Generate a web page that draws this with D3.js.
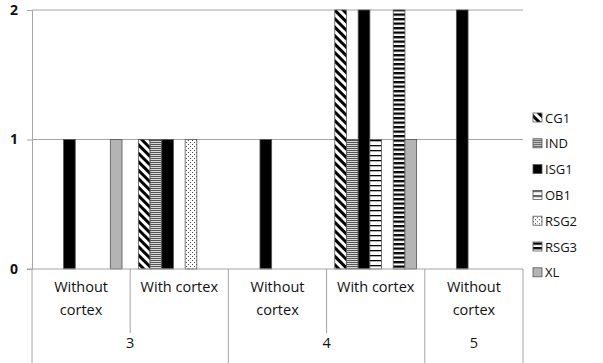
<!doctype html>
<html>
<head>
    <script src="https://d3js.org/d3.v7.min.js"></script>
</head>
<style>
    body { margin: 0; background: #fff; }
    svg text {
        fill: #111;
        font: 14.5px "Open Sans", sans-serif;
    }
    .legend text { font-size: 13px; }
</style>
<body>
<script>
    // subcategory / group labels along the x axis
    var subLabels = ["Without cortex", "With cortex", "Without cortex", "With cortex", "Without cortex"];
    var groupLabels = ["3", "3", "4", "4", "5"];
    var series = ["CG1", "IND", "ISG1", "OB1", "RSG2", "RSG3", "XL"];

    // one array per series, one value per subcategory
    var CG1  = [0, 1, 0, 2, 0];
    var IND  = [0, 1, 0, 1, 0];
    var ISG1 = [1, 1, 1, 2, 2];
    var OB1  = [0, 0, 0, 1, 0];
    var RSG2 = [0, 1, 0, 0, 0];
    var RSG3 = [0, 0, 0, 2, 0];
    var XL   = [1, 0, 0, 1, 0];
    var values = [CG1, IND, ISG1, OB1, RSG2, RSG3, XL];

    var yTicks = [0, 1, 2];

    var width = 603, height = 363;
    var plotLeft = 32, plotRight = 523, plotTop = 10, plotBottom = 269;

    var svg = d3.select("body").append("svg")
        .attr("width", width)
        .attr("height", height);

    // fill patterns, one per series
    var defs = svg.append("defs");

    var p = defs.append("pattern").attr("id", "p0") // diagonal stripes
        .attr("patternUnits", "userSpaceOnUse")
        .attr("width", 6).attr("height", 6)
        .attr("patternTransform", "rotate(-45)");
    p.append("rect").attr("width", 6).attr("height", 6).attr("fill", "#fff");
    p.append("rect").attr("width", 3).attr("height", 6).attr("fill", "#000");

    p = defs.append("pattern").attr("id", "p1") // narrow horizontal
        .attr("patternUnits", "userSpaceOnUse")
        .attr("width", 4).attr("height", 2);
    p.append("rect").attr("width", 4).attr("height", 2).attr("fill", "#d8d8d8");
    p.append("rect").attr("width", 4).attr("height", 1).attr("fill", "#555");

    p = defs.append("pattern").attr("id", "p3") // light horizontal
        .attr("patternUnits", "userSpaceOnUse")
        .attr("width", 4).attr("height", 5);
    p.append("rect").attr("width", 4).attr("height", 5).attr("fill", "#fff");
    p.append("rect").attr("width", 4).attr("height", 1.3).attr("fill", "#000");

    p = defs.append("pattern").attr("id", "p4") // dots
        .attr("patternUnits", "userSpaceOnUse")
        .attr("width", 4).attr("height", 4);
    p.append("rect").attr("width", 4).attr("height", 4).attr("fill", "#fff");
    p.append("rect").attr("x", 0).attr("y", 0).attr("width", 1).attr("height", 1).attr("fill", "#444");
    p.append("rect").attr("x", 2).attr("y", 2).attr("width", 1).attr("height", 1).attr("fill", "#444");

    p = defs.append("pattern").attr("id", "p5") // wide horizontal
        .attr("patternUnits", "userSpaceOnUse")
        .attr("width", 4).attr("height", 4.5);
    p.append("rect").attr("width", 4).attr("height", 4.5).attr("fill", "#fff");
    p.append("rect").attr("width", 4).attr("height", 2.3).attr("fill", "#000");

    var fills = ["url(#p0)", "url(#p1)", "#000", "url(#p3)", "url(#p4)", "url(#p5)", "#b4b4b4"];

    // scales
    var x0 = d3.scaleBand().domain(d3.range(subLabels.length)).range([plotLeft, plotRight]).padding(0);
    var x1 = d3.scaleBand().domain(series).range([0, x0.bandwidth()]).paddingInner(0).paddingOuter(0.7);
    var y = d3.scaleLinear().domain([0, 2]).range([plotBottom, plotTop]);

    // gridlines
    svg.append("g").selectAll("line")
        .data(yTicks.filter(function(d) { return d > 0; }))
        .enter().append("line")
        .attr("x1", plotLeft).attr("x2", plotRight)
        .attr("y1", function(d) { return y(d); })
        .attr("y2", function(d) { return y(d); })
        .attr("stroke", "#a6a6a6");

    // y axis
    var yAxis = svg.append("g")
        .attr("transform", "translate(" + plotLeft + ",0)")
        .call(d3.axisLeft(y).tickValues(yTicks).tickFormat(d3.format("d")).tickSize(5).tickPadding(9));
    yAxis.selectAll("line, path").attr("stroke", "#a6a6a6");
    yAxis.selectAll("text").style("font-size", "14px").style("font-weight", "bold").attr("fill", "#111");

    // bars
    var bars = [];
    series.forEach(function(s, si) {
        values[si].forEach(function(v, ci) {
            if (v > 0) bars.push({ s: s, si: si, ci: ci, v: v });
        });
    });

    svg.append("g").selectAll("rect")
        .data(bars)
        .enter().append("rect")
        .attr("x", function(d) { return x0(d.ci) + x1(d.s); })
        .attr("y", function(d) { return y(d.v); })
        .attr("width", x1.bandwidth())
        .attr("height", function(d) { return y(0) - y(d.v); })
        .attr("fill", function(d) { return fills[d.si]; })
        .attr("stroke", "#555")
        .attr("stroke-width", 0.8);

    // x axis baseline
    svg.append("line")
        .attr("x1", plotLeft - 5).attr("x2", plotRight)
        .attr("y1", plotBottom).attr("y2", plotBottom)
        .attr("stroke", "#a6a6a6");

    // separators: between subcategories (short) and between groups (full)
    var seps = [];
    for (var i = 0; i <= subLabels.length; i++) {
        var full = i === 0 || i === subLabels.length || groupLabels[i] !== groupLabels[i - 1];
        seps.push({ i: i, full: full });
    }
    svg.append("g").selectAll("line")
        .data(seps)
        .enter().append("line")
        .attr("x1", function(d) { return d.i < subLabels.length ? x0(d.i) : plotRight; })
        .attr("x2", function(d) { return d.i < subLabels.length ? x0(d.i) : plotRight; })
        .attr("y1", plotBottom)
        .attr("y2", function(d) { return d.full ? height : 333; })
        .attr("stroke", "#a6a6a6");

    // subcategory labels
    var sub = svg.append("g").selectAll("text")
        .data(subLabels)
        .enter().append("text")
        .attr("text-anchor", "middle")
        .attr("x", function(d, i) { return x0(i) + x0.bandwidth() / 2; })
        .attr("y", 292);
    sub.each(function(d) {
        var t = d3.select(this);
        var words = d === "Without cortex" ? ["Without", "cortex"] : [d];
        words.forEach(function(w, k) {
            t.append("tspan")
                .attr("x", t.attr("x"))
                .attr("dy", k === 0 ? 0 : 23)
                .text(w);
        });
    });

    // group labels, centered on each group's span
    var groups = [];
    groupLabels.forEach(function(g, i) {
        var last = groups[groups.length - 1];
        if (last && last.g === g) last.end = i;
        else groups.push({ g: g, start: i, end: i });
    });
    svg.append("g").selectAll("text")
        .data(groups)
        .enter().append("text")
        .attr("text-anchor", "middle")
        .attr("x", function(d) { return (x0(d.start) + x0(d.end) + x0.bandwidth()) / 2; })
        .attr("y", 348)
        .text(function(d) { return d.g; });

    // legend
    var legend = svg.append("g").attr("class", "legend")
        .selectAll("g")
        .data(series)
        .enter().append("g")
        .attr("transform", function(d, i) { return "translate(533," + (118 + i * 25.8) + ")"; });
    legend.append("rect")
        .attr("x", 0).attr("y", -5)
        .attr("width", 9).attr("height", 9)
        .attr("fill", function(d, i) { return fills[i]; })
        .attr("stroke", "#555")
        .attr("stroke-width", 0.8);
    legend.append("text")
        .attr("x", 12).attr("y", 0)
        .attr("dy", ".35em")
        .text(function(d) { return d; });
</script>
</body>
</html>
